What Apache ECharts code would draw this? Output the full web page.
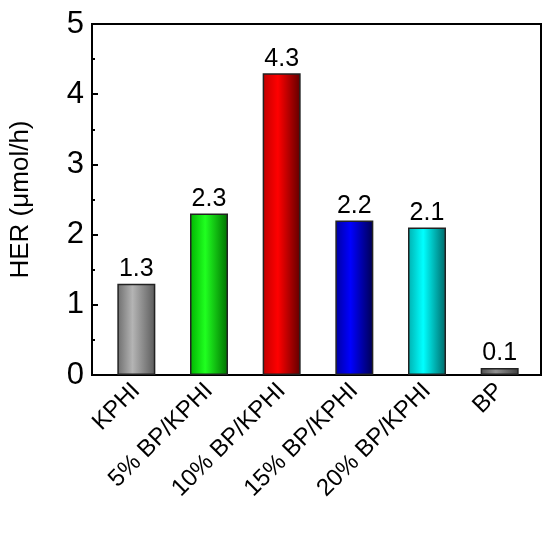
<!DOCTYPE html>
<html><head><meta charset="utf-8">
<script src="https://cdn.jsdelivr.net/npm/echarts@6/dist/echarts.min.js"></script>
<style>html,body{margin:0;padding:0;background:#fff}#c{width:550px;height:537px}</style>
</head><body><div id="c"></div>
<script>
var categories = ['KPHI', '5% BP/KPHI', '10% BP/KPHI', '15% BP/KPHI', '20% BP/KPHI', 'BP']
var values = [1.3, 2.3, 4.3, 2.2, 2.1, 0.1]
var colors = [
    ['#6e6e6e', '#b4b4b4', '#5a5a5a'],
    ['#00b400', '#20ff20', '#007000'],
    ['#c00000', '#ff0000', '#600000'],
    ['#0000a0', '#0000ff', '#000050'],
    ['#00b0b0', '#00ffff', '#006868'],
    ['#505050', '#909090', '#404040']
]

var data = []
for (var i = 0; i < values.length; i++)
{
    var c = colors[i]
    data.push({
        value: values[i],
        itemStyle: {
            color: new echarts.graphic.LinearGradient(0, 0, 1, 0, [
                {offset: 0, color: c[0]},
                {offset: 0.4, color: c[1]},
                {offset: 1, color: c[2]}
            ])
        }
    })
}

var font = 'Arial, "Liberation Sans", sans-serif'
var myChart = echarts.init(document.getElementById('c'))
var option = {
    animation: false,
    grid: [
        {left: 84, right: 9, top: 24, bottom: 162, show: true, borderColor: '#000', borderWidth: 2, backgroundColor: 'transparent'},
        {left: 100, right: 14, top: 24, bottom: 162}
    ],
    xAxis: [
        {gridIndex: 0, type: 'value', min: 0, max: 1, show: false},
        {
            gridIndex: 1, type: 'category', data: categories,
            axisLine: {show: false}, axisTick: {show: false},
            axisLabel: {rotate: 45, fontSize: 24, color: '#000', fontFamily: font, margin: 12, interval: 0}
        }
    ],
    yAxis: [
        {
            gridIndex: 0, type: 'value', min: 0, max: 5, interval: 1,
            name: 'HER (μmol/h)', nameLocation: 'middle', nameGap: 58,
            nameTextStyle: {fontSize: 26, color: '#000', fontFamily: font},
            axisLine: {show: true, lineStyle: {color: '#000', width: 2}},
            axisTick: {show: true, inside: true, length: 6, lineStyle: {color: '#000', width: 2}},
            minorTick: {show: true, splitNumber: 2, length: 3, lineStyle: {color: '#000', width: 2}},
            splitLine: {show: false},
            axisLabel: {fontSize: 31, color: '#000', fontFamily: font, margin: 8}
        },
        {gridIndex: 1, type: 'value', min: 0, max: 5, show: false}
    ],
    series: [
        {
            type: 'bar', xAxisIndex: 1, yAxisIndex: 1, data: data, barWidth: 38,
            itemStyle: {borderColor: '#222', borderWidth: 1.5},
            label: {show: true, position: 'top', fontSize: 25, color: '#000', fontFamily: font, distance: 2}
        }
    ]
}
myChart.setOption(option)
</script>
</body></html>
